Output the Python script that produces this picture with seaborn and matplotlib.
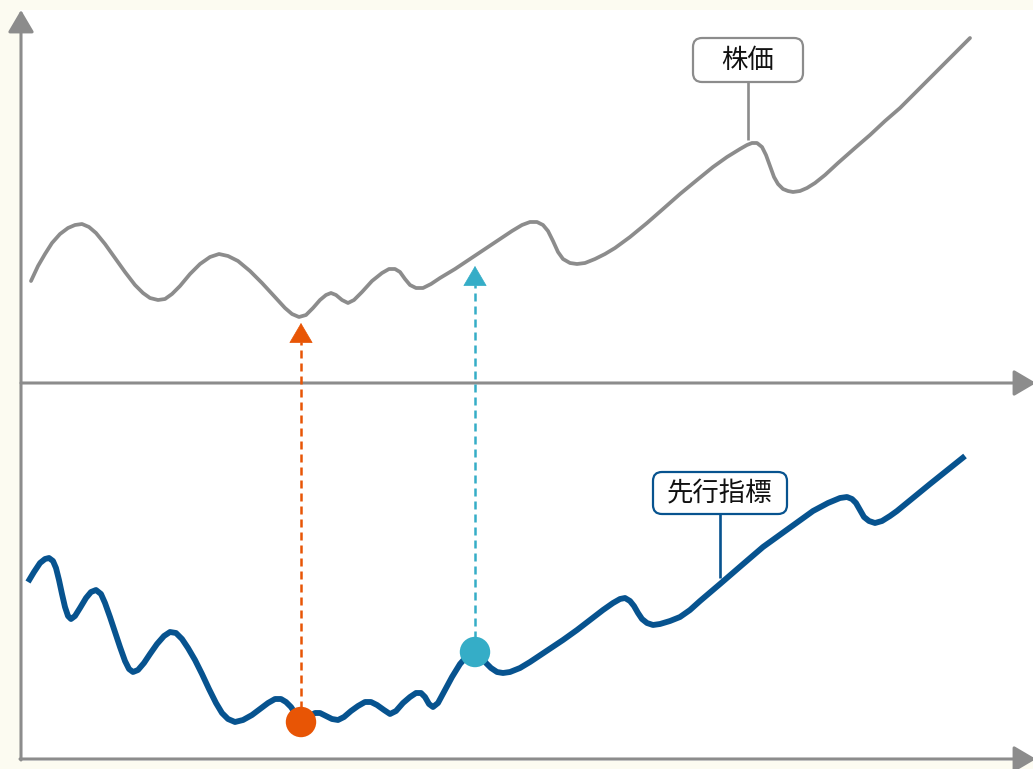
import numpy as np
import pandas as pd
import matplotlib
matplotlib.use("Agg")
import matplotlib.pyplot as plt
from matplotlib.patches import FancyBboxPatch, Rectangle
import seaborn as sns

# ---------------- data (pixel-like units) ----------------
price_t = [31, 38, 45, 52, 60, 68, 75, 82, 89, 96, 105, 115, 125, 135, 143, 150, 158, 165,
           172, 180, 190, 200, 210, 219, 228, 238, 250, 262, 274, 285, 292, 299, 306, 313,
           320, 326, 331, 336, 342, 348, 354, 362, 372, 382, 389, 395, 400, 405, 410, 416,
           423, 431, 440, 455, 470, 485, 500, 512, 522, 530, 537, 543, 548, 553, 558, 563,
           570, 577, 585, 595, 605, 615, 630, 647, 663, 680, 697, 713, 727, 740, 747, 752,
           757, 762, 766, 770, 774, 778, 783, 788, 793, 800, 807, 815, 825, 838, 855, 870,
           885, 900, 935, 970]
price_v = [281, 266, 254, 243, 234, 228, 225, 224, 227, 233, 244, 258, 272, 285, 293, 298,
           300, 299, 294, 286, 274, 264, 257, 254, 256, 261, 271, 283, 296, 308, 314, 317,
           315, 308, 300, 295, 293, 295, 300, 303, 300, 292, 281, 273, 269, 269, 272, 279,
           285, 288, 288, 284, 278, 269, 259, 249, 239, 231, 225, 222, 222, 225, 231, 241,
           252, 259, 263, 264, 263, 259, 254, 248, 237, 223, 209, 194, 180, 167, 157, 149,
           145, 143, 143, 147, 155, 166, 177, 184, 189, 191, 192, 191, 188, 183, 175, 163,
           148, 135, 121, 108, 73, 38]

ind_t = [28, 34, 40, 45, 49, 53, 56, 59, 62, 65, 68, 71, 75, 80, 86, 91, 96, 101, 105, 110,
         115, 120, 125, 129, 133, 138, 144, 150, 157, 164, 170, 176, 182, 188, 195, 202,
         209, 216, 222, 228, 235, 243, 252, 260, 268, 275, 281, 286, 291, 295, 298, 301,
         305, 310, 315, 320, 326, 332, 338, 344, 351, 358, 365, 371, 377, 384, 390, 396,
         403, 410, 416, 421, 425, 429, 433, 438, 445, 452, 460, 468, 475, 481, 486, 491,
         497, 503, 510, 520, 530, 545, 563, 577, 590, 603, 613, 620, 625, 630, 634, 638,
         642, 647, 653, 660, 670, 680, 690, 700, 720, 742, 763, 788, 813, 828, 840, 847,
         852, 856, 860, 864, 869, 875, 882, 890, 897, 930, 965]
ind_v = [582, 572, 563, 559, 558, 561, 568, 580, 594, 607, 616, 619, 616, 608, 598, 592,
         590, 594, 603, 617, 632, 647, 661, 669, 672, 670, 663, 654, 644, 636, 632, 633,
         639, 648, 660, 674, 689, 703, 713, 719, 722, 720, 715, 709, 703, 699, 699, 702,
         707, 713, 718, 722, 720, 716, 713, 713, 716, 719, 720, 717, 711, 706, 702, 702,
         705, 710, 714, 711, 703, 697, 693, 693, 697, 704, 707, 703, 690, 677, 664, 655,
         652, 656, 663, 668, 672, 673, 672, 668, 662, 652, 640, 630, 620, 610, 603, 599,
         598, 601, 606, 613, 619, 623, 625, 624, 621, 617, 610, 601, 584, 565, 547, 529,
         511, 503, 498, 497, 499, 503, 510, 517, 521, 523, 521, 516, 511, 484, 456]

# lead signals: time, indicator level (marker), price level the arrow points to
signal_t = [301, 475]
signal_ind = [722, 652]
signal_price = [323, 266]

series_labels = ["株価", "先行指標"]

# ---------------- style ----------------
CREAM = "#fcfbf1"
GRAY = "#8c8c8c"
BLUE = "#07538f"
ORANGE = "#e85505"
TEAL = "#35adc7"
signal_colors = [ORANGE, TEAL]

sns.set_style("white")
plt.rcParams["font.family"] = ["Noto Sans CJK JP", "DejaVu Sans"]

fig = plt.figure(figsize=(10.33, 7.69), dpi=100, facecolor=CREAM)
ax = fig.add_axes([0, 0, 1, 1])
ax.set_xlim(0, 1033)
ax.set_ylim(769, 0)
ax.axis("off")

# white plotting area
ax.add_patch(Rectangle((20, 10), 1013, 751, facecolor="white", edgecolor="none", zorder=0))

# axes with arrowheads
axis_kw = dict(arrowstyle="-|>,head_length=0.68,head_width=0.4", color=GRAY, lw=2.2,
               shrinkA=0, shrinkB=0, mutation_scale=20)
ax.annotate("", xy=(21, 10), xytext=(21, 760), arrowprops=axis_kw, zorder=1,
            annotation_clip=False)
ax.annotate("", xy=(1036, 383), xytext=(21, 383), arrowprops=axis_kw, zorder=1,
            annotation_clip=False)
ax.annotate("", xy=(1036, 759), xytext=(20, 759), arrowprops=axis_kw, zorder=1,
            annotation_clip=False)

# curves
sns.lineplot(x=price_t, y=price_v, sort=False, ax=ax, color=GRAY, linewidth=2.7,
             solid_joinstyle="round", zorder=3)
sns.lineplot(x=ind_t, y=ind_v, sort=False, ax=ax, color=BLUE, linewidth=4.2,
             solid_joinstyle="round", solid_capstyle="butt", zorder=3)

# lead signal arrows
head_len = 19
for t, iv, pv, c in zip(signal_t, signal_ind, signal_price, signal_colors):
    ax.plot([t, t], [iv, pv + head_len], color=c, lw=1.8,
            linestyle=(0, (3.2, 2.0)), zorder=2)
    ax.annotate("", xy=(t, pv), xytext=(t, pv + head_len),
                arrowprops=dict(arrowstyle="-|>,head_length=0.68,head_width=0.4",
                                color=c, lw=0.5, shrinkA=0, shrinkB=0, mutation_scale=20),
                zorder=4)
sns.scatterplot(x=signal_t, y=signal_ind, hue=signal_t, palette=signal_colors,
                s=480, linewidth=0, legend=False, ax=ax, zorder=5)

# labels with leader lines
label_specs = [
    # text, box (x0, y0, w, h), leader x, leader y-range, color
    (series_labels[0], (693, 38, 110, 44), 748, (82, 140), GRAY),
    (series_labels[1], (653, 472, 134, 42), 720, (514, 578), BLUE),
]
for txt, (x0, y0, w, h), lx, (ly0, ly1), c in label_specs:
    ax.plot([lx, lx], [ly0, ly1], color=c, lw=1.9, zorder=2, solid_capstyle="butt")
    box = FancyBboxPatch((x0, y0), w, h, boxstyle="round,pad=0,rounding_size=9",
                         facecolor="white", edgecolor=c, lw=1.6, zorder=6)
    ax.add_patch(box)
    ax.text(x0 + w / 2, y0 + h / 2 + 1, txt, ha="center", va="center", fontsize=19,
            color="#111111", zorder=7)

fig.savefig("out.png", dpi=100, facecolor=CREAM)
